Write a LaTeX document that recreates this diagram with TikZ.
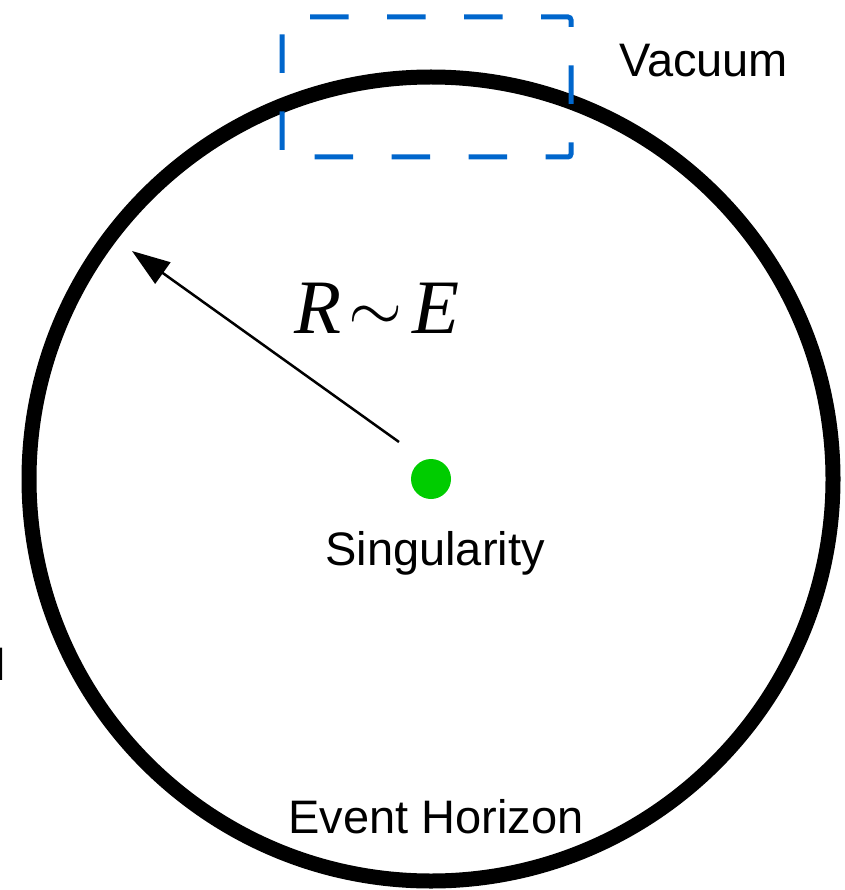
\documentclass[tikz,border=0pt]{standalone}
\usepackage{fontspec}
\setmainfont{Liberation Sans}
\newfontfamily\tnr{Liberation Serif}
\newfontfamily\lmmath{Latin Modern Math}
\usepackage{xcolor}
\usetikzlibrary{arrows.meta}
\definecolor{vacblue}{HTML}{0066CC}
\definecolor{singgreen}{HTML}{00CC00}
\tikzset{
    horizon/.style={circle, draw=black, line width=15pt,
                    minimum size=804pt, inner sep=0pt},
    sdot/.style={circle, fill=singgreen, minimum size=40pt, inner sep=0pt},
    lbl/.style={inner sep=0pt, font=\fontsize{47}{52}\selectfont},
    vacbox/.style={draw=vacblue, line width=5pt, rounded corners=3pt,
                   dash pattern=on 38.5pt off 38.5pt, dash phase=52pt},
    rarr/.style={-{Triangle[length=38pt, width=26pt]}, line width=2.5pt}
}

\begin{document}
\begin{tikzpicture}[x=1pt, y=-1pt]
\useasboundingbox (0,0) rectangle (844,890);

% ── Horizon and singularity ───────────────────────────────────────────
\node[horizon] at (431,479) (hor)  {};
\node[sdot]    at (431,479) (sing) {};

% ── Vacuum region ─────────────────────────────────────────────────────
\coordinate (vnw) at (282,17);
\coordinate (vne) at (571,17);
\coordinate (vse) at (571,157);
\coordinate (vsw) at (282,157);
\draw[vacbox] (vnw) -- (vne) -- (vse) -- (vsw) -- cycle;

% ── Radius ────────────────────────────────────────────────────────────
\coordinate (rtail) at (399,442);
\coordinate (rtip)  at (132,251);
\draw[rarr] (rtail) -- (rtip);

% ── Labels ────────────────────────────────────────────────────────────
\node[lbl, anchor=base west] at (619,77)  (vac)  {Vacuum};
\node[inner sep=0pt, anchor=base west, font=\fontsize{77}{80}\selectfont\tnr]
      at (294,333) (rad) {\itshape R\kern7pt
      \raisebox{1.5pt}{\fontsize{70}{74}\selectfont\lmmath\symbol{"223C}}\kern10pt E};
\node[lbl, anchor=base]      at (435,565) (slbl) {Singularity};
\node[lbl, anchor=base]      at (436,833) (hlbl) {Event Horizon};
\node[lbl, anchor=base east] at (6.5,680) (cut)  {H};
\end{tikzpicture}
\end{document}
